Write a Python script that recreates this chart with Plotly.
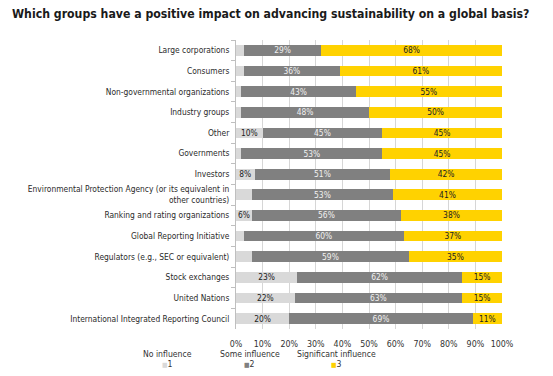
import plotly.graph_objects as go

categories = [
    "Large corporations",
    "Consumers",
    "Non-governmental organizations",
    "Industry groups",
    "Other",
    "Governments",
    "Investors",
    "Environmental Protection Agency (or its equivalent in<br>other countries)",
    "Ranking and rating organizations",
    "Global Reporting Initiative",
    "Regulators (e.g., SEC or equivalent)",
    "Stock exchanges",
    "United Nations",
    "International Integrated Reporting Council",
]
no_influence = [3, 3, 2, 2, 10, 2, 7, 6, 6, 3, 6, 23, 22, 20]
no_influence_labels = ["", "", "", "", "10%", "", "8%", "", "6%", "", "", "23%", "22%", "20%"]
some_influence = [29, 36, 43, 48, 45, 53, 51, 53, 56, 60, 59, 62, 63, 69]
significant_influence = [68, 61, 55, 50, 45, 45, 42, 41, 38, 37, 35, 15, 15, 11]
series_names = ["1", "2", "3"]
legend_titles = ["No influence", "Some influence", "Significant influence"]
x_ticks = [0, 10, 20, 30, 40, 50, 60, 70, 80, 90, 100]

FONT = "DejaVu Sans Condensed, Liberation Sans Narrow, sans-serif"
colors = ["#d9d9d9", "#808080", "#ffd200"]
text_colors = ["#222222", "#f0f0f0", "#222222"]

fig = go.Figure()
values = [no_influence, some_influence, significant_influence]
texts = [no_influence_labels,
         [f"{v}%" for v in some_influence],
         [f"{v}%" for v in significant_influence]]
for i in range(3):
    fig.add_trace(go.Bar(
        y=categories, x=values[i], name=series_names[i], orientation="h",
        marker=dict(color=colors[i], line=dict(width=0)),
        text=texts[i], textposition="inside", insidetextanchor="middle",
        textangle=0, textfont=dict(color=text_colors[i], size=8.4, family=FONT),
        showlegend=False, hoverinfo="skip",
    ))

# legend built as annotations (title line + coloured square + number)
legend_x = [-0.259, 0.051, 0.376]
for i in range(3):
    fig.add_annotation(x=legend_x[i], y=-0.085, xref="paper", yref="paper",
                       text=legend_titles[i], showarrow=False,
                       font=dict(size=8.6, color="#333333", family=FONT),
                       xanchor="center", yanchor="middle")
    fig.add_annotation(x=legend_x[i], y=-0.121, xref="paper", yref="paper",
                       text=f"<span style='color:{colors[i]};font-size:6.5px'>■</span>{series_names[i]}",
                       showarrow=False,
                       font=dict(size=8.6, color="#333333", family=FONT),
                       xanchor="center", yanchor="middle")

fig.update_layout(
    width=553, height=376,
    margin=dict(l=236, r=51, t=40, b=47),
    paper_bgcolor="white", plot_bgcolor="white",
    barmode="stack", bargap=0.48,
    font=dict(family=FONT, size=8.4, color="#333333"),
    title=dict(text="Which groups have a positive impact on advancing sustainability on a global basis?",
               x=12 / 553, xanchor="left", y=1 - 14 / 376, yanchor="middle",
               font=dict(family=FONT, size=12.2, color="#1a1a1a", weight="bold")),
    uniformtext=dict(minsize=8, mode="show"),
    showlegend=False,
)
fig.update_xaxes(range=[0, 100], tickvals=x_ticks, ticktext=[f"{t}%" for t in x_ticks],
                 showgrid=True, gridcolor="#d6d6d6", gridwidth=1.3, zeroline=False,
                 showline=False, ticks="", ticklabelstandoff=8,
                 tickfont=dict(size=8.8, color="#333333"), fixedrange=True)
fig.update_yaxes(autorange="reversed", tickson="boundaries", ticks="outside", ticklen=4,
                 tickcolor="#bfbfbf", showline=True, linecolor="#bfbfbf", linewidth=1,
                 ticklabelstandoff=4,
                 tickfont=dict(size=8.4, color="#2a2a2a"), fixedrange=True)

fig.write_html("out.html", config={"displayModeBar": False},
               post_script="document.body.style.margin='0';")
